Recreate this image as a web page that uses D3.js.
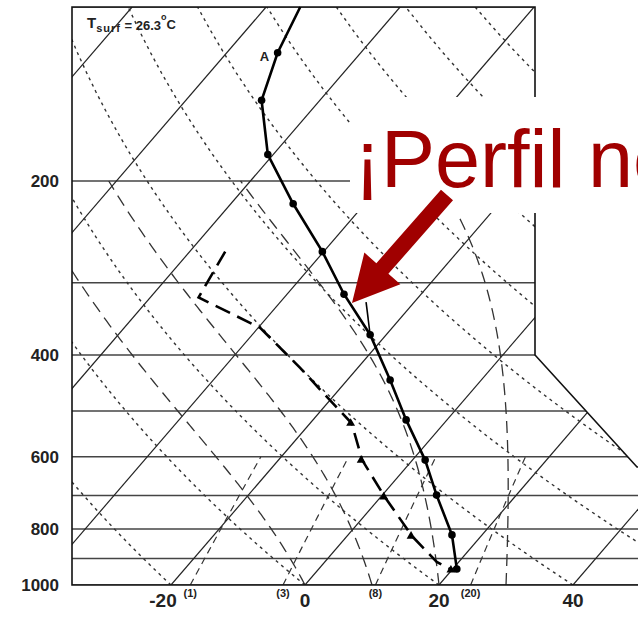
<!DOCTYPE html>
<html>
<head>
<meta charset="utf-8">
<script src="https://cdn.jsdelivr.net/npm/d3@7"></script>
<style>
body { margin: 0; background: #fff; }
svg { display: block; }
</style>
</head>
<body>
<div id="chart"></div>
<script>
var width = 638, height = 619;

// sounding (pressure hPa, temperature degC)
var tempP = [100, 120, 145, 180, 219, 265, 314, 369, 442, 518, 608, 699, 819, 938];
var tempT = [-74.9, -72.4, -68.7, -60.8, -50.7, -40.2, -31.5, -22.4, -13.6, -6.1, 1.9, 8.1, 15.5, 20.6];
var dewP = [265, 318, 359, 421, 469, 525, 608, 704, 823, 912, 942];
var dewT = [-54.7, -52.8, -39.7, -28.6, -21.4, -13.8, -7.5, 0.6, 9.7, 16.7, 20.0];
var dewMarked = [525, 608, 704, 823, 942];
var parcelP = [324, 369];
var parcelT = [-27.2, -22.4];

// diagram grid
var isobars = [100, 200, 300, 400, 500, 600, 700, 800, 900, 1000];
var pressureLabels = [200, 400, 600, 800, 1000];
var isotherms = [-120, -100, -80, -60, -40, -20, 0, 20, 40, 60];
var tempLabels = [-20, 0, 20, 40];
var dryAdiabats = [-80, -60, -40, -20, 0, 20, 40, 60, 80, 100, 120, 140, 160, 180, 200]; // theta, degC at 1000 hPa
var moistAdiabats = [0, 10, 20, 30]; // theta-w, degC
var mixRatios = [1, 3, 8, 20]; // g/kg

var svg = d3.select("#chart")
.append("svg")
.attr("width", width)
.attr("height", height);

var y = d3.scaleLog().domain([1000, 100]).range([585, 7]);
var xT = d3.scaleLinear().domain([0, 20]).range([305, 439]);
var skew = 0.86;

function px(T, p) {
	return xT(T) + skew * (y(1000) - y(p));
}

var line = d3.line()
.x(function(d) { return px(d.T, d.p); })
.y(function(d) { return y(d.p); });

// frame outline (plotting area has a notch on the right)
var frameLeft = 72, frameRight = 535, frameFar = 640;
var frame = [
	[frameLeft, y(100)], [frameRight, y(100)], [frameRight, y(400)],
	[637, y(625)], [frameFar, y(625)], [frameFar, y(1000)], [frameLeft, y(1000)]
];

svg.append("clipPath").attr("id", "clip")
.append("polygon")
.attr("points", frame.map(function(d) { return d.join(","); }).join(" "));

var grid = svg.append("g").attr("clip-path", "url(#clip)");

var pLevels = d3.range(1000, 99, -10);

// isobars
grid.selectAll(".isobar")
.data(isobars)
.enter()
.append("line")
.attr("class", "isobar")
.attr("x1", frameLeft)
.attr("x2", frameFar)
.attr("y1", function(d) { return y(d); })
.attr("y2", function(d) { return y(d); })
.attr("stroke", "#444")
.attr("stroke-width", 1.6);

// isotherms
grid.selectAll(".isotherm")
.data(isotherms)
.enter()
.append("path")
.attr("class", "isotherm")
.attr("d", function(t) {
	return line([{T: t, p: 1000}, {T: t, p: 100}]);
})
.attr("fill", "none")
.attr("stroke", "#222")
.attr("stroke-width", 1.2);

// dry adiabats
grid.selectAll(".dry")
.data(dryAdiabats)
.enter()
.append("path")
.attr("class", "dry")
.attr("d", function(th) {
	var theta = th + 273.15;
	return line(pLevels.map(function(p) {
		return {p: p, T: theta * Math.pow(p / 1000, 0.2857) - 273.15};
	}));
})
.attr("fill", "none")
.attr("stroke", "#333")
.attr("stroke-width", 1.4)
.attr("stroke-dasharray", "3,4");

// moist adiabats (pseudo-adiabatic ascent from 1000 hPa)
function lapse(p, T) {
	var tc = T - 273.15;
	var es = 6.112 * Math.exp(17.67 * tc / (tc + 243.5));
	var rs = 0.622 * es / (p - es);
	return (287 * T + 2.5e6 * rs) / (1004 + 2.5e6 * 2.5e6 * rs * 0.622 / (287 * T * T)) / p;
}

function moistCurve(tw) {
	var T = tw + 273.15, pts = [], dp = -5;
	for (var p = 1000; p >= 200; p += dp) {
		pts.push({p: p, T: T - 273.15});
		var k1 = lapse(p, T);
		var k2 = lapse(p + dp, T + k1 * dp);
		T += (k1 + k2) / 2 * dp;
	}
	return pts;
}

grid.selectAll(".moist")
.data(moistAdiabats)
.enter()
.append("path")
.attr("class", "moist")
.attr("d", function(d) { return line(moistCurve(d)); })
.attr("fill", "none")
.attr("stroke", "#333")
.attr("stroke-width", 1.3)
.attr("stroke-dasharray", "12,7");

// mixing ratio lines
function dewAt(p, w) {
	var e = (w / 1000) * p / (0.622 + w / 1000);
	var a = Math.log(e / 6.112);
	return 243.5 * a / (17.67 - a);
}

grid.selectAll(".mix")
.data(mixRatios)
.enter()
.append("path")
.attr("class", "mix")
.attr("d", function(w) {
	return line(d3.range(1000, 599, -20).map(function(p) {
		return {p: p, T: dewAt(p, w)};
	}));
})
.attr("fill", "none")
.attr("stroke", "#333")
.attr("stroke-width", 1.2)
.attr("stroke-dasharray", "7,5");

// frame
svg.append("polygon")
.attr("points", frame.map(function(d) { return d.join(","); }).join(" "))
.attr("fill", "none")
.attr("stroke", "#111")
.attr("stroke-width", 1.6);

// sounding
var tempData = tempP.map(function(p, i) { return {p: p, T: tempT[i]}; });
var dewData = dewP.map(function(p, i) { return {p: p, T: dewT[i]}; });
var parcelData = parcelP.map(function(p, i) { return {p: p, T: parcelT[i]}; });

svg.append("path")
.attr("d", line(tempData))
.attr("fill", "none")
.attr("stroke", "#000")
.attr("stroke-width", 2.6);

svg.append("path")
.attr("d", line(parcelData))
.attr("fill", "none")
.attr("stroke", "#000")
.attr("stroke-width", 1.6);

svg.selectAll(".tdot")
.data(tempData.slice(1))
.enter()
.append("circle")
.attr("class", "tdot")
.attr("cx", function(d) { return px(d.T, d.p); })
.attr("cy", function(d) { return y(d.p); })
.attr("r", 3.8)
.attr("fill", "#000");

svg.append("path")
.attr("d", line(dewData))
.attr("fill", "none")
.attr("stroke", "#000")
.attr("stroke-width", 2.6)
.attr("stroke-dasharray", "16,8");

svg.selectAll(".tri")
.data(dewData.filter(function(d) { return dewMarked.indexOf(d.p) >= 0; }))
.enter()
.append("path")
.attr("class", "tri")
.attr("d", d3.symbol().type(d3.symbolTriangle).size(34))
.attr("transform", function(d) { return "translate(" + (px(d.T, d.p) - 1) + "," + y(d.p) + ")"; })
.attr("fill", "#000");

svg.append("text")
.text("A")
.attr("x", px(tempT[1], tempP[1]) - 18)
.attr("y", y(tempP[1]) + 8)
.attr("font-family", "Liberation Sans, Arial, sans-serif")
.attr("font-weight", "bold")
.attr("font-size", 13)
.attr("fill", "#222");

// axis labels
svg.selectAll(".plabel")
.data(pressureLabels)
.enter()
.append("text")
.attr("class", "plabel")
.text(function(d) { return d; })
.attr("x", 59)
.attr("y", function(d) { return y(d) + 6; })
.attr("text-anchor", "end")
.attr("font-family", "Liberation Sans, Arial, sans-serif")
.attr("font-weight", "bold")
.attr("font-size", 17)
.attr("fill", "#222");

svg.selectAll(".tlabel")
.data(tempLabels)
.enter()
.append("text")
.attr("class", "tlabel")
.text(function(d) { return d; })
.attr("x", function(d) { return xT(d) - (d < 0 ? 8 : 0); })
.attr("y", 607)
.attr("text-anchor", "middle")
.attr("font-family", "Liberation Sans, Arial, sans-serif")
.attr("font-weight", "bold")
.attr("font-size", 19)
.attr("fill", "#222");

svg.selectAll(".wlabel")
.data(mixRatios)
.enter()
.append("text")
.attr("class", "wlabel")
.text(function(d) { return "(" + d + ")"; })
.attr("x", function(d) { return px(dewAt(1000, d), 1000); })
.attr("y", 597)
.attr("text-anchor", "middle")
.attr("font-family", "Liberation Sans, Arial, sans-serif")
.attr("font-weight", "bold")
.attr("font-size", 11)
.attr("fill", "#222");

var tsurf = svg.append("text")
.attr("x", 87)
.attr("y", 28)
.attr("font-family", "Liberation Sans, Arial, sans-serif")
.attr("font-weight", "bold")
.attr("font-size", 13)
.attr("fill", "#222");
tsurf.append("tspan").text("T").attr("font-size", 15);
tsurf.append("tspan").text("surf").attr("font-size", 11).attr("dy", 4).attr("letter-spacing", 1);
tsurf.append("tspan").text(" = 26.3").attr("dy", -2);
tsurf.append("tspan").text("o").attr("font-size", 9).attr("dy", -10);
tsurf.append("tspan").text("C").attr("dy", 9);

// slide annotation
svg.append("rect")
.attr("x", 350)
.attr("y", 97)
.attr("width", width - 350)
.attr("height", 116)
.attr("fill", "#fff");

svg.append("text")
.text("¡Perfil ne")
.attr("x", 354)
.attr("y", 187)
.attr("font-family", "Liberation Sans, Arial, sans-serif")
.attr("font-size", 81)
.attr("fill", "#a00000");

// arrow
var arrowFrom = [447, 195], arrowTo = [352, 303];
var ax = arrowTo[0] - arrowFrom[0], ay = arrowTo[1] - arrowFrom[1];
var alen = Math.sqrt(ax * ax + ay * ay);
var ux = ax / alen, uy = ay / alen, nx = -uy, ny = ux;
var shaftW = 8, headW = 24, headL = 46;
var bx = arrowTo[0] - ux * headL, by = arrowTo[1] - uy * headL;
var arrowPts = [
	[arrowFrom[0] + nx * shaftW, arrowFrom[1] + ny * shaftW],
	[bx + nx * shaftW, by + ny * shaftW],
	[bx + nx * headW, by + ny * headW],
	arrowTo,
	[bx - nx * headW, by - ny * headW],
	[bx - nx * shaftW, by - ny * shaftW],
	[arrowFrom[0] - nx * shaftW, arrowFrom[1] - ny * shaftW]
];
svg.append("polygon")
.attr("points", arrowPts.map(function(d) { return d.join(","); }).join(" "))
.attr("fill", "#a00000");
</script>
</body>
</html>
